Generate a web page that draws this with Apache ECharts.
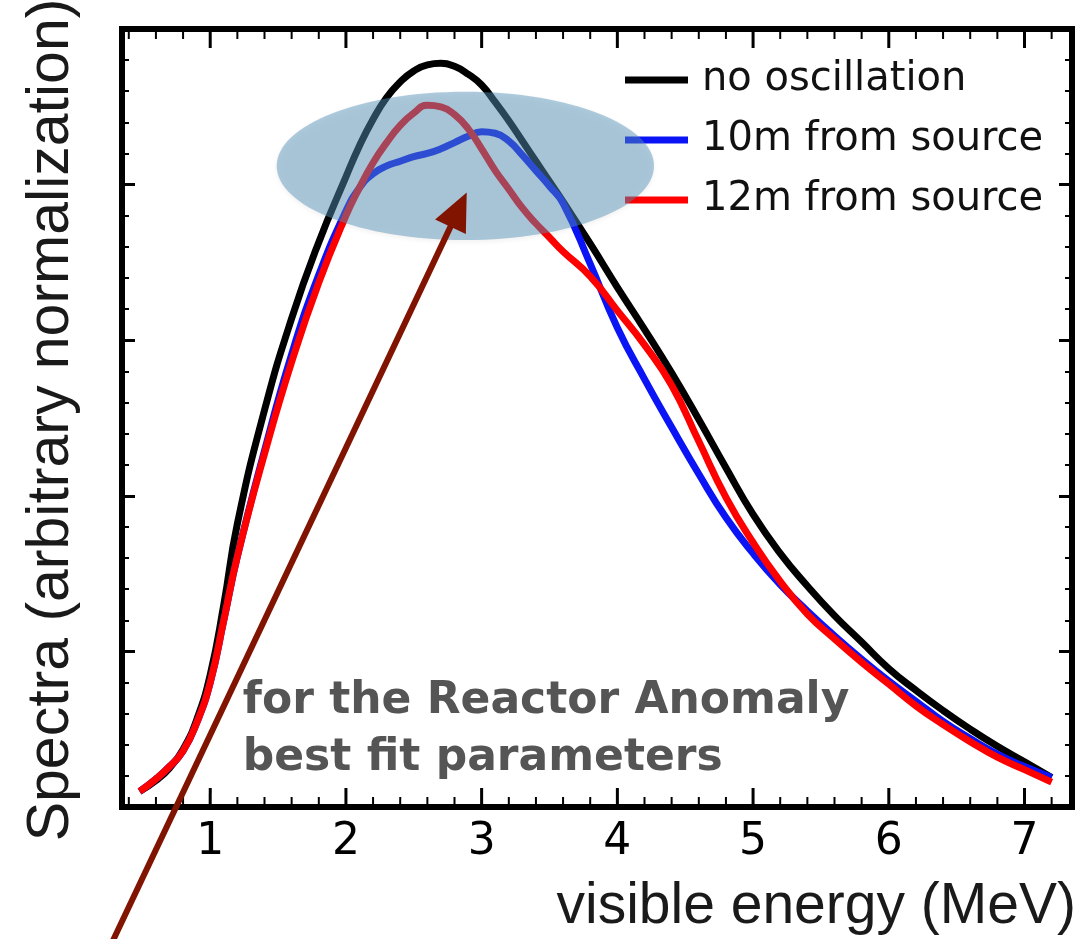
<!DOCTYPE html>
<html>
<head>
<meta charset="utf-8">
<script src="https://cdn.jsdelivr.net/npm/echarts@6/dist/echarts.min.js"></script>
<style>
html, body { margin: 0; padding: 0; background: #fff; }
#main { width: 1080px; height: 939px; }
</style>
</head>
<body>
<div id="main"></div>
<script>
// visible energy (MeV), shared by all three curves
var energy = [0.48, 0.6, 0.7, 0.8, 0.9, 1.0, 1.1, 1.2, 1.4, 1.6, 1.8, 2.0, 2.1, 2.2, 2.3, 2.4, 2.5, 2.6, 2.7, 2.8, 2.9,
    3.0, 3.1, 3.2, 3.3, 3.4, 3.5, 3.6, 3.8, 4.0, 4.2, 4.4, 4.6, 4.8, 5.0, 5.2, 5.4, 5.6, 5.8, 6.0, 6.2, 6.4, 6.6,
    6.8, 7.0, 7.2];
// spectra, arbitrary normalization
var noOsc = [0.10, 0.17, 0.25, 0.37, 0.56, 0.85, 1.30, 1.82, 2.55, 3.14, 3.63, 4.05, 4.25, 4.42, 4.56, 4.66, 4.73,
    4.77, 4.78, 4.76, 4.71, 4.64, 4.53, 4.41, 4.28, 4.15, 4.02, 3.89, 3.62, 3.34, 3.07, 2.79, 2.49, 2.18, 1.88,
    1.63, 1.42, 1.23, 1.06, 0.89, 0.75, 0.62, 0.50, 0.39, 0.29, 0.19];
var src10m = [0.10, 0.18, 0.26, 0.36, 0.54, 0.80, 1.20, 1.61, 2.29, 2.91, 3.42, 3.83, 3.98, 4.07, 4.12, 4.15, 4.18,
    4.20, 4.23, 4.27, 4.31, 4.34, 4.33, 4.28, 4.19, 4.09, 3.99, 3.88, 3.49, 3.08, 2.75, 2.44, 2.14, 1.86, 1.63,
    1.43, 1.26, 1.10, 0.95, 0.81, 0.68, 0.55, 0.44, 0.34, 0.26, 0.19];
var src12m = [0.10, 0.18, 0.26, 0.36, 0.54, 0.80, 1.20, 1.61, 2.27, 2.86, 3.37, 3.80, 3.98, 4.14, 4.27, 4.38, 4.46,
    4.51, 4.50, 4.45, 4.36, 4.23, 4.09, 3.97, 3.85, 3.75, 3.66, 3.57, 3.41, 3.19, 2.97, 2.71, 2.35, 1.99, 1.70,
    1.45, 1.24, 1.08, 0.93, 0.79, 0.65, 0.53, 0.42, 0.32, 0.24, 0.16];

var seriesNames = ['no oscillation', '10m from source', '12m from source'];
var seriesColors = ['#000000', '#0a14f5', '#ff0000'];

// tick positions on the energy axis
var xMajor = [1, 2, 3, 4, 5, 6, 7];
var xMinor = [0.4, 0.6, 0.8, 1.2, 1.4, 1.6, 1.8, 2.2, 2.4, 2.6, 2.8, 3.2, 3.4, 3.6, 3.8, 4.2, 4.4, 4.6, 4.8,
    5.2, 5.4, 5.6, 5.8, 6.2, 6.4, 6.6, 6.8, 7.2];

// annotation anchors in axis units
var ellipseCenter = [2.88, 4.12];
var ellipseRadius = [1.39, 0.476];
var arrowTail = [0.25, -0.92];
var arrowTip = [2.89, 3.95];
var notePos = [1.24, 0.86];

function pairs(xs, ys) {
    return xs.map(function (x, i) { return [x, ys[i]]; });
}

var myChart = echarts.init(document.getElementById('main'));

function yAxisFor(position) {
    return {
        type: 'value',
        position: position,
        min: 0,
        max: 5,
        interval: 1,
        axisLine: {show: false},
        splitLine: {show: false},
        axisLabel: {show: false},
        axisTick: {show: true, inside: true, length: 13, lineStyle: {color: '#000', width: 3}},
        minorTick: {show: true, splitNumber: 5, length: 7, lineStyle: {color: '#000', width: 2}}
    };
}

// inward ticks on bottom and top frame, drawn as short segments through the x scale
function tickSeries(list, len, width) {
    return {
        type: 'custom',
        silent: true,
        clip: false,
        z: 30,
        data: list.map(function (e) { return [e, 0]; }),
        renderItem: function (params, api) {
            var bottom = api.coord([api.value(0), 0]);
            var top = api.coord([api.value(0), 5]);
            var st = {stroke: '#000', lineWidth: width, fill: null};
            return {
                type: 'group',
                children: [
                    {type: 'line', shape: {x1: bottom[0], y1: bottom[1] + 2, x2: bottom[0] + 0.01, y2: bottom[1] - len},
                        style: st},
                    {type: 'line', shape: {x1: top[0], y1: top[1] - 2, x2: top[0] + 0.01, y2: top[1] + len},
                        style: st}
                ]
            };
        }
    };
}

var lineSeries = [noOsc, src10m, src12m].map(function (vals, i) {
    return {
        name: seriesNames[i],
        type: 'line',
        data: pairs(energy, vals),
        smooth: 0.5,
        showSymbol: false,
        color: seriesColors[i],
        lineStyle: {width: 7, color: seriesColors[i]},
        z: 2 + i
    };
});

var option = {
    backgroundColor: '#ffffff',
    animation: false,
    grid: {
        left: 122, right: 8, top: 29, bottom: 132,
        show: true, borderColor: '#000', borderWidth: 6,
        outerBoundsMode: 'none'
    },
    legend: {
        data: seriesNames,
        orient: 'vertical',
        left: 620,
        top: 54,
        icon: 'rect',
        itemWidth: 63,
        itemHeight: 7,
        itemGap: 18,
        selectedMode: false,
        textStyle: {fontFamily: 'DejaVu Sans', fontSize: 40, color: '#111', lineHeight: 42, padding: [0, 0, 0, 9]}
    },
    xAxis: {
        type: 'value',
        min: 0.35,
        max: 7.35,
        axisLine: {show: false},
        splitLine: {show: false},
        axisTick: {show: false},
        axisLabel: {customValues: xMajor, margin: 14, color: '#000', fontSize: 44, fontFamily: 'DejaVu Sans'}
    },
    yAxis: [yAxisFor('left'), yAxisFor('right')],
    series: lineSeries.concat([tickSeries(xMajor, 19, 3), tickSeries(xMinor, 10, 2)])
};

myChart.setOption(option);

function px(pt) {
    return myChart.convertToPixel({seriesIndex: 0}, pt);
}

var c = px(ellipseCenter);
var ex = px([ellipseCenter[0] + ellipseRadius[0], ellipseCenter[1]]);
var ey = px([ellipseCenter[0], ellipseCenter[1] + ellipseRadius[1]]);
var tail = px(arrowTail);
var tip = px(arrowTip);
var dx = tip[0] - tail[0], dy = tip[1] - tail[1];
var dlen = Math.sqrt(dx * dx + dy * dy);
var ux = dx / dlen, uy = dy / dlen;
var headLen = 38, headHalf = 17;
var base = [tip[0] - ux * headLen, tip[1] - uy * headLen];
var note = px(notePos);

myChart.setOption({
    graphic: [
        {
            type: 'ellipse',
            shape: {cx: c[0], cy: c[1], rx: ex[0] - c[0], ry: c[1] - ey[1]},
            style: {fill: 'rgba(84,144,184,0.47)', shadowBlur: 5, shadowColor: 'rgba(0,0,0,0.12)', shadowOffsetY: 2},
            z: 50
        },
        {
            type: 'line',
            shape: {x1: tail[0], y1: tail[1], x2: base[0] + ux * 4, y2: base[1] + uy * 4},
            style: {stroke: '#801400', lineWidth: 6},
            z: 60
        },
        {
            type: 'polygon',
            shape: {points: [
                tip,
                [base[0] - uy * headHalf, base[1] + ux * headHalf],
                [base[0] + uy * headHalf, base[1] - ux * headHalf]
            ]},
            style: {fill: '#801400'},
            z: 60
        },
        {
            type: 'text',
            x: note[0],
            y: note[1],
            style: {
                text: 'for the Reactor Anomaly\nbest fit parameters',
                fontFamily: 'DejaVu Sans', fontWeight: 'bold', fontSize: 44, lineHeight: 57,
                fill: '#555555', align: 'left', verticalAlign: 'top'
            },
            z: 40
        },
        {
            type: 'text',
            x: 1076,
            y: 907,
            style: {
                text: 'visible energy (MeV)',
                fontFamily: 'Liberation Sans', fontSize: 57, fill: '#1a1a1a',
                align: 'right', verticalAlign: 'middle'
            }
        },
        {
            type: 'text',
            x: 52,
            y: 420,
            rotation: Math.PI / 2,
            style: {
                text: 'Spectra (arbitrary normalization)',
                fontFamily: 'Liberation Sans', fontSize: 59, fill: '#1a1a1a',
                align: 'center', verticalAlign: 'middle'
            }
        }
    ]
});
</script>
</body>
</html>
